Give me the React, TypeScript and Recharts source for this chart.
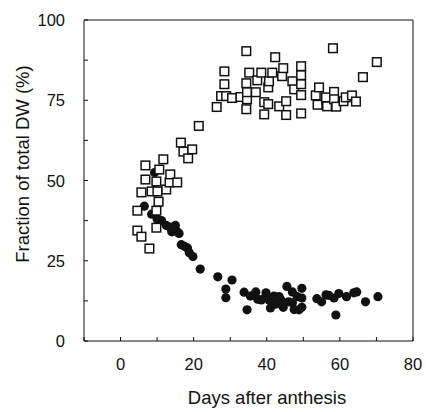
import {
  ReferenceLine,
  Scatter,
  ScatterChart,
  XAxis,
  YAxis,
} from 'recharts';

// fraction in ear (open squares): [days, %]
const earDays = [
  4.6, 4.6, 5.7, 5.7, 6.8, 6.8, 7.9, 8.5, 9.8, 9.8, 9.8, 10.1, 10.4, 10.6,
  11.7, 12.5, 13.4, 13.6, 15.5, 16.5, 17.2, 18.5, 19.6, 21.4, 26.3, 27.5,
  28.4, 28.4, 28.9, 30.5, 32.8, 34.4, 35.2, 34.4, 34.6, 34.4, 34.6, 37.4, 37,
  38.5, 39.3, 39.3, 40.4, 40.4, 40.6, 41.5, 42.3, 43.4, 44.2, 44.5, 45.3,
  45.3, 47, 47.5, 49.4, 49.4, 49.4, 49.4, 49.4, 53.4, 54.3, 53.9, 56.2, 56.5,
  58.1, 58.4, 58.4, 59, 61, 61.6, 63.3, 64.4, 66.3, 70.1,
];
const earPct = [
  40.6, 34.4, 32.5, 46.3, 54.7, 50.3, 28.8, 46.6, 49.7, 40.6, 35.3, 46.6,
  43.4, 53.4, 56.6, 47.2, 49.4, 51.9, 49.4, 61.8, 59, 56.9, 59.7, 67, 72.9,
  76.3, 84, 80, 76.3, 75.7, 76, 90.3, 83.6, 80.3, 75.3, 72.2, 77.5, 81.2,
  77.5, 83.6, 74.4, 70.6, 79, 73.8, 80.9, 83.6, 88.4, 73.1, 82.5, 85, 74.7,
  70.4, 80.9, 78.4, 85.6, 82.8, 80, 76.6, 70.9, 76.5, 79, 73.6, 75.9, 73.1,
  91.2, 77.6, 75.3, 73, 74.7, 75.9, 76.5, 74.6, 82.2, 86.9,
];

// fraction in stem (filled circles)
const stemDays = [
  6.5, 8.5, 9.3, 10, 11.2, 12.5, 13.5, 14, 15, 15.5, 16, 16.6, 17.5, 18.3,
  18.8, 19.8, 21.8, 26.6, 28.8, 28.8, 30.5, 33.8, 34.6, 35.5, 36.5, 37, 37.5,
  38.5, 39.5, 39.8, 40.6, 41, 42, 42.5, 43.4, 43.9, 44.5, 45.5, 46, 47, 47,
  47.5, 48.3, 48.8, 49.6, 49.6, 49.6, 53.7, 55, 56.2, 57, 58.4, 58.9, 59.7,
  61.8, 63.8, 64.6, 67, 70.4,
];
const stemPct = [
  42, 39.5, 52.5, 38, 37.5, 36, 35.5, 34, 36, 34, 33.5, 30, 29.5, 29, 27.5,
  26.3, 22.4, 20, 16.2, 13.5, 19, 15.2, 9.7, 14, 14.4, 15.3, 13, 12.8, 13.5,
  15, 12.8, 10.3, 14, 11.5, 13.8, 12.8, 10.5, 17, 12.2, 15.3, 11.9, 9.8, 13.8,
  9.7, 16.4, 13.4, 10.5, 13.2, 12.2, 14.4, 14.2, 13.4, 8.1, 14.8, 13.8, 15,
  15.3, 12.2, 13.8,
];

const xTicks = [-10, 0, 10, 20, 30, 40, 50, 60, 70, 80];
const xLabels = [0, 20, 40, 60, 80];
const yTicks = [0, 12.5, 25, 37.5, 50, 62.5, 75, 87.5, 100];
const yLabels = [0, 25, 50, 75, 100];

const ear = earDays.map((d, i) => ({ day: d, pct: earPct[i] }));
const stem = stemDays.map((d, i) => ({ day: d, pct: stemPct[i] }));

const FONT = '"Liberation Sans", Arial, sans-serif';

const XTick = ({ x, y, payload }: any) => (
  <g>
    <line x1={x} y1={y} x2={x} y2={y - 4} stroke="#111" strokeWidth={1} />
    {xLabels.includes(payload.value) && (
      <text x={x} y={y + 29} textAnchor="middle" fontSize={16.5} fill="#111" fontFamily={FONT}>
        {payload.value}
      </text>
    )}
  </g>
);

const YTick = ({ x, y, payload }: any) => (
  <g>
    <line x1={x} y1={y} x2={x + 4} y2={y} stroke="#111" strokeWidth={1} />
    {yLabels.includes(payload.value) && (
      <text x={x - 19} y={y + 6} textAnchor="end" fontSize={16.5} fill="#111" fontFamily={FONT}>
        {payload.value}
      </text>
    )}
  </g>
);

const Square = ({ cx, cy }: any) => (
  <rect x={cx - 4.3} y={cy - 4.3} width={8.6} height={8.6} fill="#fff" stroke="#111" strokeWidth={1.5} />
);

const Dot = ({ cx, cy }: any) => <circle cx={cx} cy={cy} r={4.6} fill="#111" />;

export default function App() {
  return (
    <div style={{ position: 'absolute', left: 0, top: 0, background: '#fff' }}>
      <ScatterChart
        width={426}
        height={412}
        margin={{ top: 20, right: 13, left: 0, bottom: 0 }}
      >
        <XAxis
          type="number"
          dataKey="day"
          domain={[-10, 80]}
          ticks={xTicks}
          tick={<XTick />}
          tickLine={false}
          tickSize={0}
          tickMargin={0}
          height={71}
          stroke="#111"
          interval={0}
          label={{
            content: () => (
              <text x={267} y={404} textAnchor="middle" fontSize={18.5} fill="#111" fontFamily={FONT}>
                Days after anthesis
              </text>
            ),
          }}
        />
        <YAxis
          type="number"
          dataKey="pct"
          domain={[0, 100]}
          ticks={yTicks}
          tick={<YTick />}
          tickLine={false}
          tickSize={0}
          tickMargin={0}
          width={84}
          stroke="#111"
          interval={0}
          label={{
            content: () => (
              <text
                x={29}
                y={164}
                textAnchor="middle"
                fontSize={18.5}
                fill="#111"
                fontFamily={FONT}
                transform="rotate(-90 29 164)"
              >
                Fraction of total DW (%)
              </text>
            ),
          }}
        />
        <ReferenceLine y={100} stroke="#111" />
        <ReferenceLine x={80} stroke="#111" />
        <Scatter data={stem} shape={<Dot />} isAnimationActive={false} />
        <Scatter data={ear} shape={<Square />} isAnimationActive={false} />
      </ScatterChart>
    </div>
  );
}
